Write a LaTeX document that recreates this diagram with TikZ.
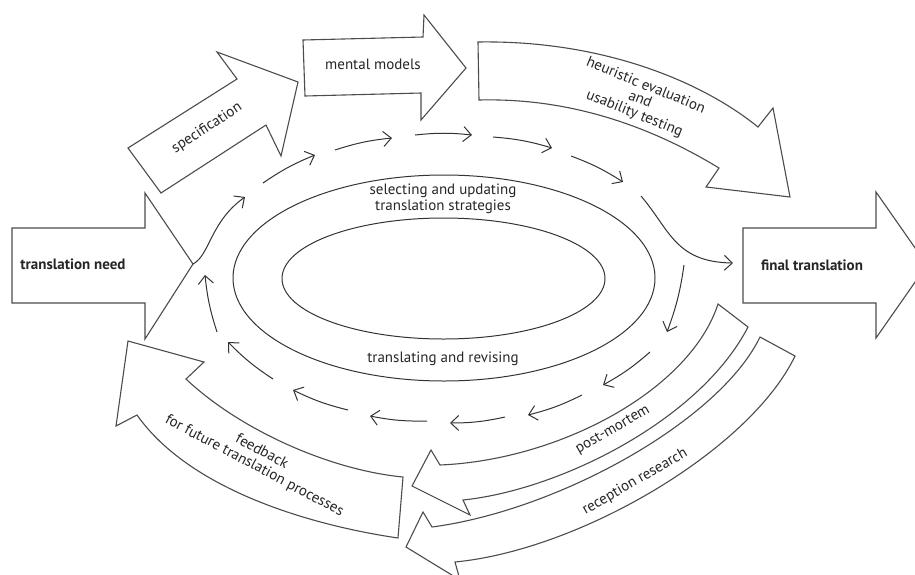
\documentclass[tikz,border=0pt]{standalone}
\usepackage{fontspec}
\setmainfont{PT Sans}
\usetikzlibrary{arrows.meta, shapes.geometric}

\begin{document}
\begin{tikzpicture}[
    x=1pt, y=-1pt,
    blockarrow/.style={draw=black!70, fill=white, line width=1.1pt, line join=miter},
    cyclearrow/.style={-{Straight Barb[length=8pt, width=15pt]}, line width=1pt, draw=black!80},
    ring/.style={draw=black!80, line width=1pt, ellipse, inner sep=0pt},
    label_text/.style={font=\fontsize{15}{16}\selectfont, align=center, text=black!85},
    label_bold/.style={label_text, font=\fontsize{15}{16}\selectfont\bfseries}
]
\useasboundingbox (0,0) rectangle (915,574);

% --- Ellipses in the middle ---
\node (outerring) [ring, minimum width=422pt, minimum height=206pt] at (444,278) {};
\node (innerring) [ring, minimum width=323pt, minimum height=121pt] at (443.5,278.5) {};
\node (strategies) [label_text] at (443,199) {selecting and updating\\translation strategies};
\node (revising) [label_text] at (443,359) {translating and revising};

% --- Block arrows ---
% input and output
\draw [blockarrow] (12,228) -- (145,228) -- (145,193) -- (193,264) coordinate (needtip) -- (145,339) -- (145,303) -- (12,303) -- cycle;
\node (need) [label_bold] at (73,264) {translation need};

\draw [blockarrow] (743,228) -- (876,228) -- (876,192) -- (927,265) -- (876,338) -- (876,303) -- (743,303) -- cycle;
\node (final) [label_bold] at (812,265) {final translation};
\coordinate (finalin) at (733,263);

% upper stages
\draw [blockarrow] (128,148) -- (237,79) -- (217,52) -- (298,82) -- (281,156) -- (266,125) -- (161,193) -- cycle;
\node (spec) [label_text, rotate=33] at (207,128) {specification};

\draw [blockarrow] (303,40) -- (423,37) -- (424,15) -- (466,68) -- (421,120) -- (421,93) -- (305,96) -- cycle;
\node (models) [label_text] at (373,64) {mental models};

\draw [blockarrow] (478,42) .. controls (600,40) and (700,80) .. (758,127) -- (773,108) -- (790,197) -- (706,187) -- (719,168) .. controls (640,120) and (560,98) .. (479,100) -- cycle;
\node (heuristic) [label_text, font=\fontsize{15}{15}\selectfont, rotate=-22] at (640,100) {heuristic evaluation\\and\\usability testing};

% lower stages (curved back)
\draw [blockarrow] (760,337) -- (795,356) .. controls (750,450) and (580,550) .. (455,562) -- (460,580) -- (406,547) -- (423,512) -- (432,527) .. controls (560,510) and (720,420) .. (760,337) -- cycle;
\node (reception) [label_text, rotate=30] at (635,482) {reception research};

\draw [blockarrow] (718,304) -- (748,327) .. controls (700,420) and (560,490) .. (463,500) -- (470,515) -- (412,486) -- (431,450) -- (440,465) .. controls (560,460) and (690,390) .. (718,304) -- cycle;
\node (postmortem) [label_text, rotate=30] at (613,430) {post-mortem};

\draw [blockarrow] (403,477) .. controls (330,470) and (240,430) .. (186,379) -- (204,362) -- (128,341) -- (116,426) -- (137,415) .. controls (190,490) and (310,525) .. (398,538) -- cycle;
\node (feedback) [label_text, rotate=-28] at (258,459) {feedback\\for future translation processes};

% --- Dashed cycle of small arrows ---
\draw [cyclearrow] (needtip) .. controls (210,255) and (210,222) .. (245,197);
\foreach \xa/\ya/\xb/\yb in {263/183/315/155, 335/150/392/138, 415/135/472/135, 493/137/552/148, 571/156/623/182}
    \draw [cyclearrow] (\xa,\ya) to[bend left=6] (\xb,\yb);
\draw [cyclearrow] (641,196) .. controls (670,230) and (675,262) .. (finalin);
\foreach \xa/\ya/\xb/\yb in {684/265/667/332, 650/352/603/385, 582/395/528/415, 505/417/450/423, 427/421/370/416, 348/410/293/390, 273/379/228/342, 217/332/205/275}
    \draw [cyclearrow] (\xa,\ya) to[bend left=6] (\xb,\yb);

\end{tikzpicture}
\end{document}
